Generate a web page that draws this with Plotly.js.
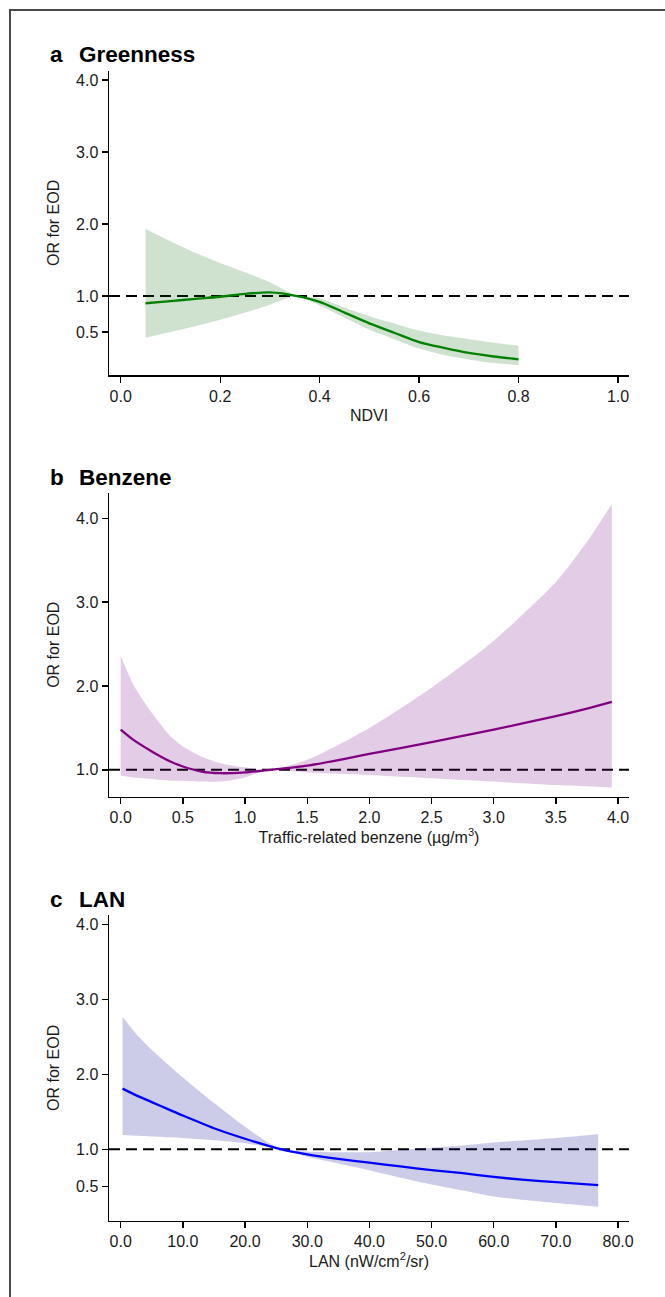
<!DOCTYPE html>
<html>
<head>
<meta charset="utf-8">
<script src="https://cdn.plot.ly/plotly-3.0.1.min.js"></script>
<style>
  html, body { margin: 0; padding: 0; background: #ffffff; }
  #chart { width: 665px; height: 1297px; position: absolute; left: 0; top: 0; }
  #frame { position: absolute; left: 9px; top: 9px; width: 700px; height: 1320px;
           border-left: 2px solid #4a4a4a; border-top: 2px solid #4a4a4a;
           pointer-events: none; z-index: 10; }
</style>
</head>
<body>
<div id="chart"></div>
<div id="frame"></div>
<script>
// ---------- Panel a: Greenness (NDVI) ----------
const ndviX     = [0.05, 0.10, 0.15, 0.20, 0.25, 0.30, 0.355, 0.40, 0.45, 0.50, 0.55, 0.60, 0.65, 0.70, 0.75, 0.80];
const ndviOR    = [0.90, 0.93, 0.96, 0.99, 1.03, 1.05, 1.00, 0.92, 0.77, 0.62, 0.49, 0.36, 0.28, 0.21, 0.16, 0.12];
const ndviUpper = [1.93, 1.76, 1.60, 1.46, 1.33, 1.19, 1.00, 0.97, 0.84, 0.72, 0.62, 0.52, 0.45, 0.40, 0.35, 0.31];
const ndviLower = [0.42, 0.50, 0.58, 0.67, 0.77, 0.88, 1.00, 0.87, 0.70, 0.53, 0.40, 0.27, 0.18, 0.12, 0.07, 0.04];

// ---------- Panel b: Benzene ----------
const bzX     = [0.00, 0.10, 0.25, 0.40, 0.50, 0.65, 0.80, 1.00, 1.20, 1.50, 2.00, 2.50, 3.00, 3.50, 3.75, 3.95];
const bzOR    = [1.48, 1.36, 1.22, 1.10, 1.04, 0.98, 0.96, 0.97, 1.00, 1.05, 1.19, 1.33, 1.48, 1.64, 1.73, 1.81];
const bzUpper = [2.36, 2.02, 1.68, 1.40, 1.28, 1.16, 1.08, 1.03, 1.00, 1.12, 1.50, 1.98, 2.54, 3.24, 3.72, 4.17];
const bzLower = [0.93, 0.91, 0.89, 0.87, 0.87, 0.86, 0.86, 0.91, 1.00, 0.97, 0.94, 0.90, 0.86, 0.82, 0.805, 0.79];

// ---------- Panel c: LAN ----------
const lanX     = [0.3, 2.5, 5, 7.5, 10, 15, 20, 25.7, 30, 35, 40, 45, 50, 55, 60, 65, 70, 76.8];
const lanOR    = [1.81, 1.72, 1.63, 1.54, 1.45, 1.28, 1.14, 1.00, 0.93, 0.87, 0.82, 0.77, 0.72, 0.68, 0.63, 0.59, 0.56, 0.52];
const lanUpper = [2.77, 2.54, 2.33, 2.14, 1.96, 1.62, 1.30, 1.00, 0.97, 0.96, 0.96, 0.99, 1.02, 1.05, 1.09, 1.12, 1.15, 1.20];
const lanLower = [1.19, 1.18, 1.17, 1.16, 1.15, 1.12, 1.08, 1.00, 0.90, 0.81, 0.72, 0.62, 0.53, 0.45, 0.37, 0.32, 0.28, 0.23];

// ---------- Labels & ticks ----------
const panelLetters = ["a", "b", "c"];
const panelTitles  = ["Greenness", "Benzene", "LAN"];
const xTitles = ["NDVI", "Traffic-related benzene (µg/m<sup>3</sup>)", "LAN (nW/cm<sup>2</sup>/sr)"];
const yTitle = "OR for EOD";
const refOR = 1.0;
const xTicksA = [0, 0.2, 0.4, 0.6, 0.8, 1.0];
const xTicksB = [0, 0.5, 1.0, 1.5, 2.0, 2.5, 3.0, 3.5, 4.0];
const xTicksC = [0, 10, 20, 30, 40, 50, 60, 70, 80];
const yTicksAC = [0.5, 1, 2, 3, 4];
const yTicksB = [1, 2, 3, 4];

const FONT = "Liberation Sans, Arial, sans-serif";
const TXT = "#1a1a1a";

function band(x, lo, hi, xa, ya, fill) {
  return [
    { x: x, y: lo, xaxis: xa, yaxis: ya, type: "scatter", mode: "lines",
      line: { width: 0, shape: "spline", smoothing: 0.7 }, hoverinfo: "skip", showlegend: false },
    { x: x, y: hi, xaxis: xa, yaxis: ya, type: "scatter", mode: "lines",
      line: { width: 0, shape: "spline", smoothing: 0.7 }, fill: "tonexty", fillcolor: fill,
      hoverinfo: "skip", showlegend: false }
  ];
}
function mainLine(x, y, xa, ya, color) {
  return { x: x, y: y, xaxis: xa, yaxis: ya, type: "scatter", mode: "lines",
           line: { color: color, width: 2.3, shape: "spline", smoothing: 0.7 }, showlegend: false };
}

const data = [
  ...band(ndviX, ndviLower, ndviUpper, "x", "y", "rgba(0,100,0,0.19)"),
  mainLine(ndviX, ndviOR, "x", "y", "#008000"),
  ...band(bzX, bzLower, bzUpper, "x2", "y2", "rgba(110,0,130,0.2)"),
  mainLine(bzX, bzOR, "x2", "y2", "#800080"),
  ...band(lanX, lanLower, lanUpper, "x3", "y3", "rgba(0,0,139,0.2)"),
  mainLine(lanX, lanOR, "x3", "y3", "#0000ff")
];

function xAxis(range, ticks, title, anchor) {
  return {
    domain: [0, 1], anchor: anchor, range: range, tickvals: ticks, tickformat: ".1f",
    showline: true, linecolor: "#000", linewidth: 1.5, ticks: "outside", ticklen: 6,
    tickwidth: 1.3, tickcolor: "#000", showgrid: false, zeroline: false,
    tickfont: { family: FONT, size: 16, color: TXT },
    title: { text: title, font: { family: FONT, size: 16, color: TXT }, standoff: 6 }
  };
}
function yAxis(domain, range, ticks, anchor) {
  return {
    domain: domain, anchor: anchor, range: range, tickvals: ticks, tickformat: ".1f",
    showline: true, linecolor: "#000", linewidth: 1.5, ticks: "outside", ticklen: 6,
    tickwidth: 1.3, tickcolor: "#000", showgrid: false, zeroline: false,
    tickfont: { family: FONT, size: 16, color: TXT },
    title: { text: yTitle, font: { family: FONT, size: 16, color: TXT }, standoff: 12 }
  };
}

const H = 1297;
const titleY = [54.2, 477.2, 899.2];
const annotations = [];
for (let i = 0; i < 3; i++) {
  annotations.push({ xref: "paper", yref: "paper", x: (47.5 - 109) / 520, y: 1 - titleY[i] / H,
    xanchor: "left", yanchor: "middle", showarrow: false, text: "<b>" + panelLetters[i] + "</b>",
    font: { family: FONT, size: 22.5, color: "#000" } });
  annotations.push({ xref: "paper", yref: "paper", x: (76.5 - 109) / 520, y: 1 - titleY[i] / H,
    xanchor: "left", yanchor: "middle", showarrow: false, text: "<b>" + panelTitles[i] + "</b>",
    font: { family: FONT, size: 22.5, color: "#000" } });
}

const shapes = ["", "2", "3"].map(s => ({
  type: "line", xref: "x" + s + " domain", yref: "y" + s, x0: 0, x1: 1, y0: refOR, y1: refOR,
  layer: "below", line: { color: "#000", width: 2, dash: "11px,6px" }
}));

const layout = {
  width: 665, height: 1297,
  margin: { l: 109, r: 36, t: 0, b: 0 },
  paper_bgcolor: "#fff", plot_bgcolor: "#fff",
  showlegend: false,
  font: { family: FONT, color: TXT },
  xaxis:  xAxis([-0.0235, 1.022], xTicksA, xTitles[0], "y"),
  yaxis:  yAxis([1 - 375 / H, 1 - 70.7 / H], [-0.097, 4.13], yTicksAC, "x"),
  xaxis2: xAxis([-0.094, 4.088], xTicksB, xTitles[1], "y2"),
  yaxis2: yAxis([1 - 796.7 / H, 1 - 492.7 / H], [0.68, 4.305], yTicksB, "x2"),
  xaxis3: xAxis([-1.88, 81.76], xTicksC, xTitles[2], "y3"),
  yaxis3: yAxis([1 - 1220.7 / H, 1 - 915 / H], [0.045, 4.13], yTicksAC, "x3"),
  annotations: annotations,
  shapes: shapes
};

Plotly.newPlot("chart", data, layout, { displayModeBar: false, staticPlot: true });
</script>
</body>
</html>
